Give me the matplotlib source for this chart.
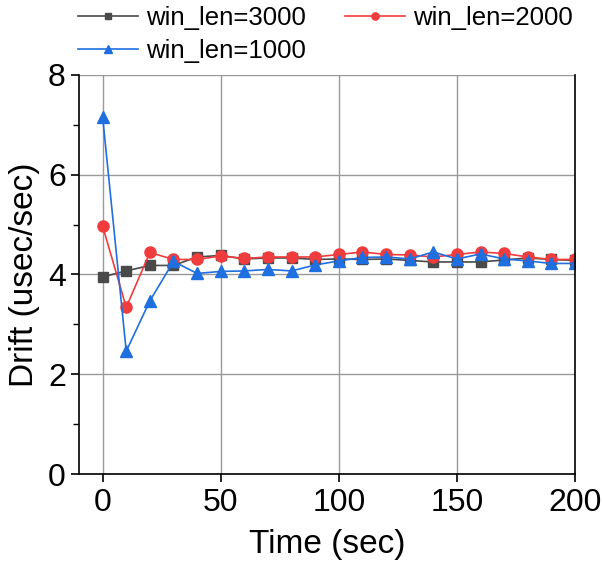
import matplotlib.pyplot as plt
from matplotlib.ticker import MultipleLocator

plt.rcParams['font.family'] = ['Liberation Sans', 'DejaVu Sans']

time = [0, 10, 20, 30, 40, 50, 60, 70, 80, 90, 100,
        110, 120, 130, 140, 150, 160, 170, 180, 190, 200]
drift_3000 = [3.95, 4.07, 4.18, 4.18, 4.35, 4.38, 4.31, 4.33, 4.33, 4.30, 4.31,
              4.30, 4.31, 4.28, 4.25, 4.25, 4.25, 4.29, 4.33, 4.30, 4.28]
drift_2000 = [4.97, 3.34, 4.44, 4.30, 4.30, 4.37, 4.32, 4.35, 4.35, 4.35, 4.40,
              4.45, 4.40, 4.39, 4.35, 4.40, 4.45, 4.42, 4.35, 4.30, 4.30]
drift_1000 = [7.16, 2.46, 3.47, 4.26, 4.02, 4.06, 4.07, 4.10, 4.07, 4.19, 4.27,
              4.34, 4.35, 4.31, 4.45, 4.31, 4.41, 4.31, 4.27, 4.22, 4.22]

fig = plt.figure(figsize=(6.03, 5.67), dpi=100)
ax = fig.add_axes([0.131, 0.164, 0.8226, 0.704])

l3, = ax.plot(time, drift_3000, marker='s', ms=7, color='#4a4a4a', lw=1.2, label='win_len=3000')
l2, = ax.plot(time, drift_2000, marker='o', ms=8, color='#f03c3c', lw=1.2, label='win_len=2000')
l1, = ax.plot(time, drift_1000, marker='^', ms=9, color='#1f6fe0', lw=1.2, label='win_len=1000')

ax.set_xlim(-10, 200)
ax.set_ylim(0, 8)
ax.set_xticks([0, 50, 100, 150, 200])
ax.set_yticks([0, 2, 4, 6, 8])
ax.yaxis.set_minor_locator(MultipleLocator(1))
ax.grid(True, color='#999999', lw=1.0)
ax.set_axisbelow(True)
ax.spines['top'].set_visible(False)
for s in ['left', 'bottom', 'right']:
    ax.spines[s].set_linewidth(1.2)
ax.tick_params(which='major', direction='out', length=6, width=1.2, labelsize=23)
ax.tick_params(which='minor', direction='out', length=4, width=1.0)
ax.tick_params(axis='x', pad=4)
ax.set_xlabel('Time (sec)', fontsize=24, labelpad=8)
ax.set_ylabel('Drift (usec/sec)', fontsize=24, labelpad=6)

# column-first fill: 3000 / 1000 in col 1, 2000 in col 2
fig.legend([l3, l1, l2], ['win_len=3000', 'win_len=1000', 'win_len=2000'],
           loc='upper left', bbox_to_anchor=(0.129, 0.99), ncol=2, frameon=False,
           fontsize=18.5, markerscale=0.65, handlelength=2.33, columnspacing=1.55,
           labelspacing=0.35, handletextpad=0.31, borderpad=0, borderaxespad=0)

fig.savefig('out.png', dpi=100)
